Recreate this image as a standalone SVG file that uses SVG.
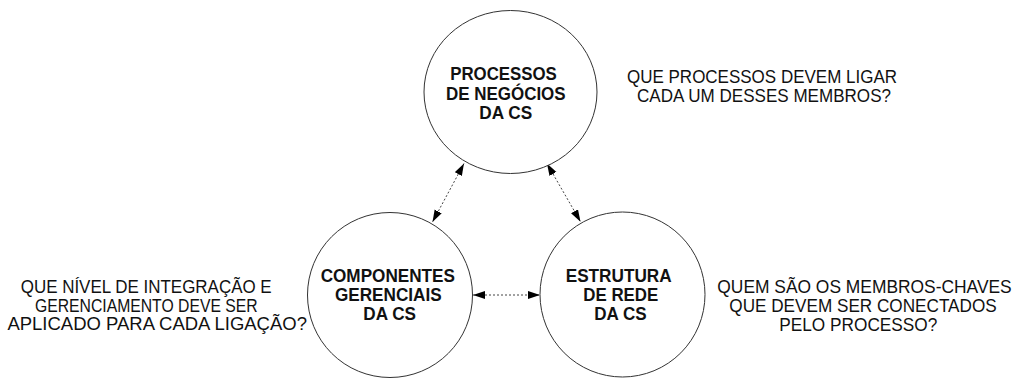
<svg xmlns="http://www.w3.org/2000/svg" width="1013" height="378" viewBox="0 0 1013 378">
<style>
.node{fill:#fff;stroke:#333;stroke-width:1}
.lbl{font-family:"Liberation Sans",Arial,sans-serif;font-weight:bold;font-size:18.5px;fill:#111;text-anchor:middle}
.q{font-family:"Liberation Sans",Arial,sans-serif;font-size:17.5px;fill:#111;text-anchor:middle}
.conn{stroke:#444;stroke-width:1;stroke-dasharray:2 2;fill:none;marker-start:url(#ah);marker-end:url(#ah)}
</style>
<defs>
<marker id="ah" markerUnits="userSpaceOnUse" markerWidth="13" markerHeight="9" refX="12" refY="4" orient="auto-start-reverse">
<path d="M0,0 L12,4 L0,8 z" fill="#000"/>
</marker>
</defs>
<rect width="1013" height="378" fill="#fff"/>
<g id="connectors">
<line class="conn" x1="464" y1="163.5" x2="432.5" y2="222"/>
<line class="conn" x1="547" y1="163.5" x2="580.5" y2="221.7"/>
<line class="conn" x1="473" y1="295" x2="540" y2="295"/>
</g>
<g id="node-processos">
<ellipse class="node" cx="510.5" cy="92" rx="86.5" ry="81.5"/>
<text class="lbl" x="503.5" y="79.5" textLength="106.7" lengthAdjust="spacingAndGlyphs">PROCESSOS</text>
<text class="lbl" x="505.8" y="99.5" textLength="119.7" lengthAdjust="spacingAndGlyphs">DE NEGÓCIOS</text>
<text class="lbl" x="505.8" y="119" textLength="53" lengthAdjust="spacingAndGlyphs">DA CS</text>
</g>
<g id="node-componentes">
<circle class="node" cx="390" cy="295" r="82.5"/>
<text class="lbl" x="387.8" y="281.5" textLength="134.3" lengthAdjust="spacingAndGlyphs">COMPONENTES</text>
<text class="lbl" x="388.3" y="300.5" textLength="106.7" lengthAdjust="spacingAndGlyphs">GERENCIAIS</text>
<text class="lbl" x="389.7" y="319.5" textLength="52.7" lengthAdjust="spacingAndGlyphs">DA CS</text>
</g>
<g id="node-estrutura">
<circle class="node" cx="622.5" cy="294.5" r="82.5"/>
<text class="lbl" x="618.7" y="281.5" textLength="106" lengthAdjust="spacingAndGlyphs">ESTRUTURA</text>
<text class="lbl" x="620.8" y="300.5" textLength="75" lengthAdjust="spacingAndGlyphs">DE REDE</text>
<text class="lbl" x="620.5" y="319.5" textLength="52.4" lengthAdjust="spacingAndGlyphs">DA CS</text>
</g>
<g id="q-processos">
<text class="q" x="762" y="83.3" textLength="270" lengthAdjust="spacingAndGlyphs">QUE PROCESSOS DEVEM LIGAR</text>
<text class="q" x="764" y="102.3" textLength="254" lengthAdjust="spacingAndGlyphs">CADA UM DESSES MEMBROS?</text>
</g>
<g id="q-componentes">
<text class="q" x="146.2" y="293.3" textLength="251" lengthAdjust="spacingAndGlyphs">QUE NÍVEL DE INTEGRAÇÃO E</text>
<text class="q" x="146.3" y="311.5" textLength="222.7" lengthAdjust="spacingAndGlyphs">GERENCIAMENTO DEVE SER</text>
<text class="q" x="157.2" y="330" textLength="299.5" lengthAdjust="spacingAndGlyphs">APLICADO PARA CADA LIGAÇÃO?</text>
</g>
<g id="q-estrutura">
<text class="q" x="864.5" y="293.3" textLength="294.4" lengthAdjust="spacingAndGlyphs">QUEM SÃO OS MEMBROS-CHAVES</text>
<text class="q" x="863" y="311.7" textLength="267.4" lengthAdjust="spacingAndGlyphs">QUE DEVEM SER CONECTADOS</text>
<text class="q" x="858.3" y="330.7" textLength="158" lengthAdjust="spacingAndGlyphs">PELO PROCESSO?</text>
</g>
</svg>
